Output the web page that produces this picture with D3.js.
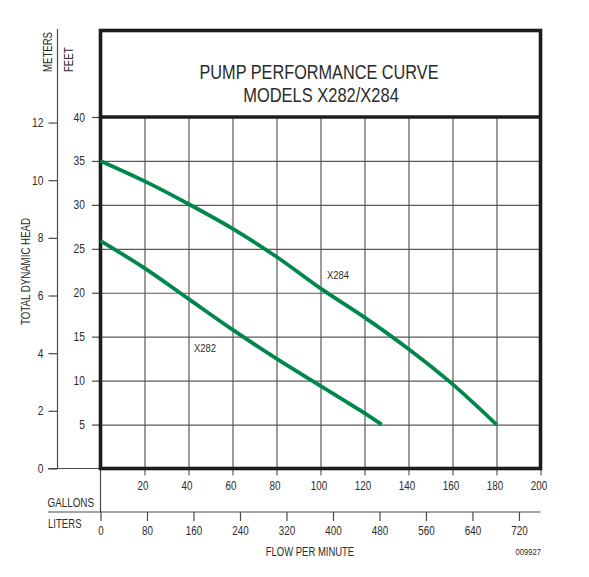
<!DOCTYPE html>
<html>
<head>
<meta charset="utf-8">
<script src="https://cdn.jsdelivr.net/npm/d3@7"></script>
<style>
  body { margin: 0; background: #fff; }
  text { font-family: "Liberation Sans", Arial, sans-serif; fill: #2b2b2b; }
</style>
</head>
<body>
<script>
// chart data
const gallonTicks = [20, 40, 60, 80, 100, 120, 140, 160, 180, 200];
const literTicks = [0, 80, 160, 240, 320, 400, 480, 560, 640, 720];
const feetTicks = [5, 10, 15, 20, 25, 30, 35, 40];
const meterTicks = [0, 2, 4, 6, 8, 10, 12];

const x282Flow = [0, 20, 40, 60, 80, 100, 120, 127.8];
const x282Head = [25.9, 22.8, 19.3, 15.8, 12.5, 9.4, 6.3, 5];
const x284Flow = [0, 20, 40, 60, 80, 100, 120, 140, 160, 180];
const x284Head = [35, 32.7, 30.1, 27.3, 24.1, 20.5, 17.2, 13.6, 9.6, 5];

const FT_PER_M = 3.28084;
const L_PER_GAL = 3.78541;
const NARROW = 0.82; // squeeze to look like a condensed face

const svg = d3.select('body').append('svg')
    .attr('width', 589)
    .attr('height', 577);

// scales
const x = d3.scaleLinear().domain([0, 200]).range([100.5, 540.5]);
const y = d3.scaleLinear().domain([0, 40]).range([468.5, 117]);
const xL = d3.scaleLinear().domain([0, 200 * L_PER_GAL]).range(x.range());
const yM = d3.scaleLinear().domain([0, 40 / FT_PER_M]).range(y.range());

const gridColor = '#5a5a5a';
const axisColor = '#4a4a4a';
const green = '#00874c';

function narrowText(g, size, k) {
    g.selectAll('text')
        .style('font-size', size + 'px')
        .attr('transform', `scale(${k || NARROW},1)`);
}

// grid lines
svg.append('g')
    .attr('transform', `translate(0,${y(0)})`)
    .call(d3.axisBottom(x).tickValues(gallonTicks).tickSize(-(y(0) - y(40))).tickFormat(''))
    .call(g => g.select('.domain').remove())
    .call(g => g.selectAll('line').attr('stroke', gridColor).attr('stroke-width', 1.2));
svg.append('g')
    .attr('transform', `translate(${x(0)},0)`)
    .call(d3.axisLeft(y).tickValues(feetTicks).tickSize(-(x(200) - x(0))).tickFormat(''))
    .call(g => g.select('.domain').remove())
    .call(g => g.selectAll('line').attr('stroke', gridColor).attr('stroke-width', 1.2));

// gallons axis (below plot)
const gAxis = svg.append('g')
    .attr('transform', `translate(0,${y(0)})`)
    .call(d3.axisBottom(x).tickValues(gallonTicks).tickSize(7).tickPadding(5.5))
    .call(g => g.select('.domain').remove());
gAxis.selectAll('line').attr('stroke', gridColor).attr('stroke-width', 1.2);
narrowText(gAxis, 12);
gAxis.selectAll('text').attr('x', -2 / NARROW);

// feet axis
const fAxis = svg.append('g')
    .attr('transform', `translate(${x(0)},0)`)
    .call(d3.axisLeft(y).tickValues(feetTicks).tickSize(8.5))
    .call(g => g.select('.domain').remove());
fAxis.selectAll('line').attr('stroke', axisColor).attr('stroke-width', 1.2);
narrowText(fAxis, 12.5);
fAxis.selectAll('text').attr('x', -15.5 / NARROW);

// meters axis
const mAxis = svg.append('g')
    .attr('transform', 'translate(57.5,0)')
    .call(d3.axisLeft(yM).tickValues(meterTicks).tickSize(9))
    .call(g => g.select('.domain').remove());
mAxis.selectAll('line').attr('stroke', axisColor).attr('stroke-width', 1.2);
narrowText(mAxis, 12.5);
mAxis.selectAll('text').attr('x', -14 / NARROW);
svg.append('line')
    .attr('x1', 57.5).attr('x2', 57.5)
    .attr('y1', 29).attr('y2', y(0))
    .attr('stroke', axisColor).attr('stroke-width', 1.2);
svg.append('line')
    .attr('x1', 48).attr('x2', x(0))
    .attr('y1', y(0)).attr('y2', y(0))
    .attr('stroke', axisColor).attr('stroke-width', 1.2);

// liters axis
const lAxisY = 512;
const lAxis = svg.append('g')
    .attr('transform', `translate(0,${lAxisY})`)
    .call(d3.axisBottom(xL).tickValues(literTicks).tickSize(9).tickPadding(5.5))
    .call(g => g.select('.domain').remove());
lAxis.selectAll('line').attr('stroke', axisColor).attr('stroke-width', 1.2);
narrowText(lAxis, 12);
svg.append('line')
    .attr('x1', 48).attr('x2', x(200))
    .attr('y1', lAxisY).attr('y2', lAxisY)
    .attr('stroke', axisColor).attr('stroke-width', 1.2);
svg.append('line')
    .attr('x1', x(0)).attr('x2', x(0))
    .attr('y1', y(0)).attr('y2', lAxisY)
    .attr('stroke', axisColor).attr('stroke-width', 1.2);

// heavy frame: title box + plot
const frame = svg.append('g').attr('fill', 'none').attr('stroke', '#1c1c1c').attr('stroke-width', 3.6);
frame.append('rect')
    .attr('x', x(0)).attr('y', 30.5)
    .attr('width', x(200) - x(0)).attr('height', y(0) - 30.5);
frame.append('line')
    .attr('x1', x(0)).attr('x2', x(200))
    .attr('y1', y(40)).attr('y2', y(40));

// curves
const line = d3.line()
    .x(d => x(d[0]))
    .y(d => y(d[1]))
    .curve(d3.curveCatmullRom.alpha(0.5));
const curves = [
    { name: 'X282', pts: d3.zip(x282Flow, x282Head) },
    { name: 'X284', pts: d3.zip(x284Flow, x284Head) }
];
svg.append('g').selectAll('path')
    .data(curves)
    .join('path')
    .attr('d', d => line(d.pts))
    .attr('fill', 'none')
    .attr('stroke', green)
    .attr('stroke-width', 3.8)
    .attr('stroke-linecap', 'butt');

// labels
function label(txt, tx, ty, size, anchor, rot, k) {
    svg.append('text')
        .attr('transform', `translate(${tx},${ty})${rot ? ' rotate(' + rot + ')' : ''} scale(${k || NARROW},1)`)
        .attr('text-anchor', anchor || 'start')
        .style('font-size', size + 'px')
        .text(txt);
}
label('PUMP PERFORMANCE CURVE', 319, 79, 19.5, 'middle', 0, 0.835);
label('MODELS X282/X284', 321, 102, 19.5, 'middle', 0, 0.845);
label('X284', 327, 279, 11.5);
label('X282', 194, 351.5, 11.5);
label('METERS', 51.7, 72, 12, 'start', -90, 0.8);
label('FEET', 72.7, 72, 12, 'start', -90, 0.8);
label('TOTAL DYNAMIC HEAD', 30, 271.5, 12, 'middle', -90, 0.81);
label('GALLONS', 47.5, 506.5, 12, 'start', 0, 0.82);
label('LITERS', 48, 527.5, 12, 'start', 0, 0.8);
label('FLOW PER MINUTE', 310, 555.5, 12, 'middle', 0, 0.79);
label('009927', 541, 554.5, 9, 'end', 0, 0.85);
</script>
</body>
</html>
